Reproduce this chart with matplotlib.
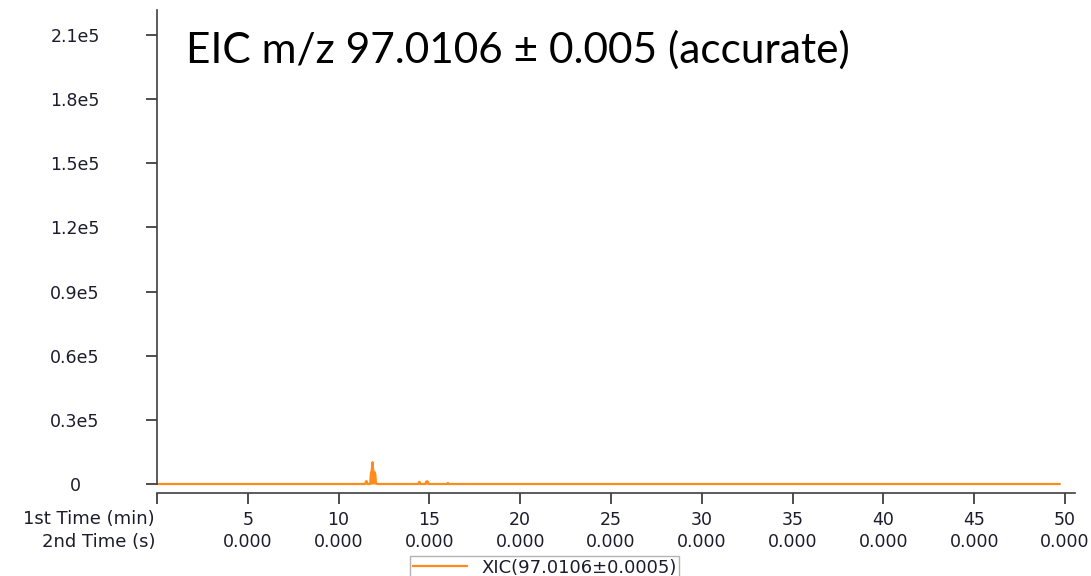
import matplotlib.pyplot as plt

# retention time (min) and intensity
rt_min = [0.0, 11.45, 11.5, 11.53, 11.56, 11.6, 11.74, 11.78, 11.82, 11.85, 11.87,
          11.9, 11.94, 11.98, 12.02, 12.05, 12.1, 14.38, 14.42, 14.46, 14.5,
          14.78, 14.82, 14.87, 14.92, 14.96, 15.98, 16.02, 16.06, 49.7]
intensity = [0, 0, 900, 1400, 800, 0, 0, 5200, 6000, 8800, 10200,
             6500, 5800, 5500, 4800, 900, 0, 0, 800, 1000, 0,
             0, 1100, 1300, 900, 0, 0, 500, 0, 0]

x_ticks = [0, 5, 10, 15, 20, 25, 30, 35, 40, 45, 50]
x_labels = [''] + ['%d\n0.000' % t for t in x_ticks[1:]]
y_ticks = [0, 30000, 60000, 90000, 120000, 150000, 180000, 210000]
y_labels = ['0', '0.3e5', '0.6e5', '0.9e5', '1.2e5', '1.5e5', '1.8e5', '2.1e5']

orange = '#ff8c1a'
text_col = '#1c1c2c'
fs = 12.5
W, H = 1091, 576

fig = plt.figure(figsize=(W / 100, H / 100), dpi=100)
# axes box in pixels: left 157, right 1075, top 10, bottom 493
ax = fig.add_axes([157 / W, 1 - 493 / H, (1075 - 157) / W, (493 - 10) / H])

px_per_unit = (484 - 35) / 210000
ax.set_ylim(-(493 - 484) / px_per_unit, (484 - 10) / px_per_unit)
ax.set_xlim(0, (1075 - 157) / 18.16)

ax.fill_between(rt_min, intensity, 0, color=orange, lw=0)
ax.plot(rt_min, intensity, color=orange, lw=1.6, label='XIC(97.0106±0.0005)')

for s in ['top', 'right']:
    ax.spines[s].set_visible(False)
ax.spines['left'].set_bounds(0, (484 - 10) / px_per_unit)
ax.spines['left'].set_color('#404040')
ax.spines['bottom'].set_color('#404040')
ax.spines['left'].set_linewidth(1.2)
ax.spines['bottom'].set_linewidth(1.2)

ax.set_xticks(x_ticks)
ax.set_xticklabels(x_labels, fontsize=fs, color=text_col, linespacing=1.3)
ax.tick_params(axis='x', length=8, width=1.2, color='#303030', pad=5)

ax.set_yticks(y_ticks)
ax.set_yticklabels(y_labels, fontsize=fs, color=text_col)
ax.tick_params(axis='y', length=8, width=1.2, color='#303030', pad=51)
for lab in ax.get_yticklabels():
    lab.set_horizontalalignment('center')

fig.text(155 / W, 1 - 519 / H, '1st Time (min)', ha='right', va='center',
         fontsize=13, color=text_col)
fig.text(155 / W, 1 - 542 / H, '2nd Time (s)', ha='right', va='center',
         fontsize=13, color=text_col)

fig.text(186 / W, 1 - 50 / H, 'EIC m/z 97.0106 ± 0.005 (accurate)',
         ha='left', va='center', fontsize=30.5, family='Lato', color='black')

leg = fig.legend(loc='upper left', bbox_to_anchor=(410 / W, 1 - 556 / H),
                 fancybox=False, frameon=True, fontsize=13, handlelength=3.0,
                 handletextpad=0.8, borderpad=0.15, borderaxespad=0)
leg.get_frame().set_edgecolor('#a0a0a0')
leg.get_frame().set_linewidth(1.0)
for t in leg.get_texts():
    t.set_color(text_col)

fig.savefig('out.png', dpi=100)
